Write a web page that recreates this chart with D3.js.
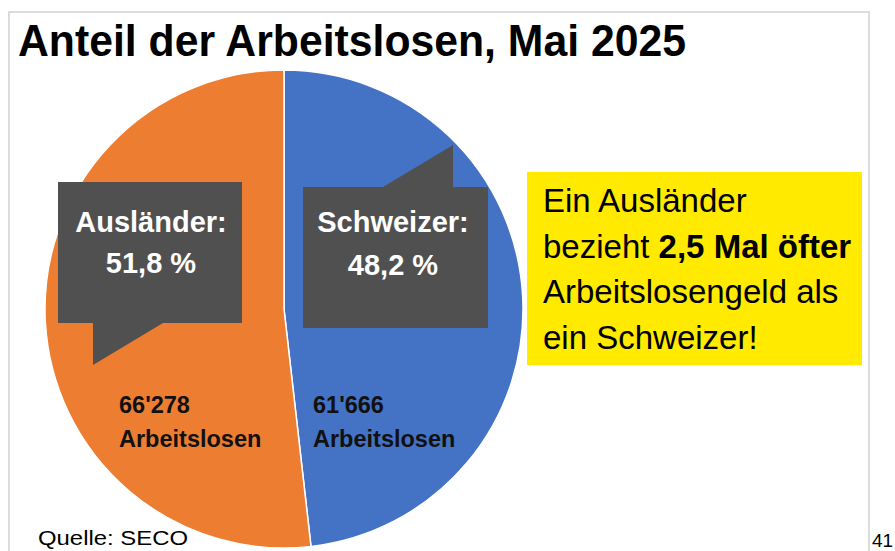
<!DOCTYPE html>
<html>
<head>
<meta charset="utf-8">
<script src="https://cdn.jsdelivr.net/npm/d3@7"></script>
<style>
  body { margin: 0; background: #fff; }
  text { font-family: "Liberation Sans", Arial, sans-serif; }
</style>
</head>
<body>
<div id="container"></div>
<script>
/* DATA */
const groups = ["Schweizer", "Ausländer"];
const counts = [61666, 66278];
const shares = ["48,2 %", "51,8 %"];
const countLabels = ["61'666", "66'278"];
const colors = ["#4472C4", "#ED7D31"];

const width = 895, height = 551;
const cx = 284, cy = 309, radius = 239;

const svg = d3.select("#container")
  .append("svg")
  .attr("width", width)
  .attr("height", height);

// FRAME
svg.append("path")
  .attr("d", `M9,${height} V12 H869 V${height}`)
  .attr("fill", "none")
  .attr("stroke", "#dcdcdc")
  .attr("stroke-width", 2);

// TITLE
svg.append("text")
  .attr("x", 18)
  .attr("y", 56)
  .attr("font-size", 45)
  .attr("font-weight", "bold")
  .attr("textLength", 668)
  .attr("lengthAdjust", "spacingAndGlyphs")
  .text("Anteil der Arbeitslosen, Mai 2025");

// PIE
const pie = d3.pie().sort(null).value(d => d.count);
const arc = d3.arc().innerRadius(0).outerRadius(radius);
const data = groups.map((g, i) => ({ group: g, count: counts[i], share: shares[i], label: countLabels[i], color: colors[i] }));

const g = svg.append("g").attr("transform", `translate(${cx},${cy})`);
g.selectAll(".slice")
  .data(pie(data))
  .join("path")
  .attr("class", "slice")
  .attr("d", arc)
  .attr("fill", d => d.data.color)
  .attr("stroke", "#fff")
  .attr("stroke-width", 1.5);

// COUNT LABELS
const countPos = { "Schweizer": [313, 413], "Ausländer": [119, 413] };
data.forEach(d => {
  const [x, y] = countPos[d.group];
  const t = svg.append("text")
    .attr("x", x).attr("y", y)
    .attr("font-size", 23.5)
    .attr("font-weight", "bold")
    .attr("fill", "#111");
  t.append("tspan").attr("x", x).text(d.label);
  t.append("tspan").attr("x", x).attr("dy", 34).text("Arbeitslosen");
});

// CALLOUT BOXES
const boxFill = "#505050";
// Ausländer: tail pointing down
svg.append("path")
  .attr("d", "M58,182 H242 V323 H163 L93,365 V323 H58 Z")
  .attr("fill", boxFill);
// Schweizer: tail pointing up
svg.append("path")
  .attr("d", "M303,187 H383 L453,145 V187 H488 V328 H303 Z")
  .attr("fill", boxFill);

const calloutPos = { "Ausländer": [151, 232, 273], "Schweizer": [393, 232, 275] };
data.forEach(d => {
  const [x, y1, y2] = calloutPos[d.group];
  svg.append("text")
    .attr("x", x).attr("y", y1)
    .attr("text-anchor", "middle")
    .attr("font-size", 29)
    .attr("font-weight", "bold")
    .attr("fill", "#fff")
    .text(d.group + ":");
  svg.append("text")
    .attr("x", x).attr("y", y2)
    .attr("text-anchor", "middle")
    .attr("font-size", 29)
    .attr("font-weight", "bold")
    .attr("fill", "#fff")
    .text(d.share);
});

// YELLOW NOTE
svg.append("rect")
  .attr("x", 527).attr("y", 172)
  .attr("width", 335).attr("height", 193)
  .attr("fill", "#FFEA00");

const noteLines = [
  [["Ein Ausländer", false]],
  [["bezieht ", false], ["2,5 Mal öfter", true]],
  [["Arbeitslosengeld als", false]],
  [["ein Schweizer!", false]]
];
noteLines.forEach((line, i) => {
  const t = svg.append("text")
    .attr("x", 543)
    .attr("y", 212 + i * 45.5)
    .attr("font-size", 33)
    .attr("fill", "#000");
  line.forEach(([txt, bold]) => {
    t.append("tspan")
      .attr("font-weight", bold ? "bold" : "normal")
      .text(txt);
  });
});

// FOOTER
svg.append("text")
  .attr("x", 38).attr("y", 545)
  .attr("font-size", 21)
  .attr("textLength", 150)
  .attr("lengthAdjust", "spacingAndGlyphs")
  .text("Quelle: SECO");

svg.append("text")
  .attr("x", 872).attr("y", 547)
  .attr("font-size", 19)
  .text("41");
</script>
</body>
</html>
